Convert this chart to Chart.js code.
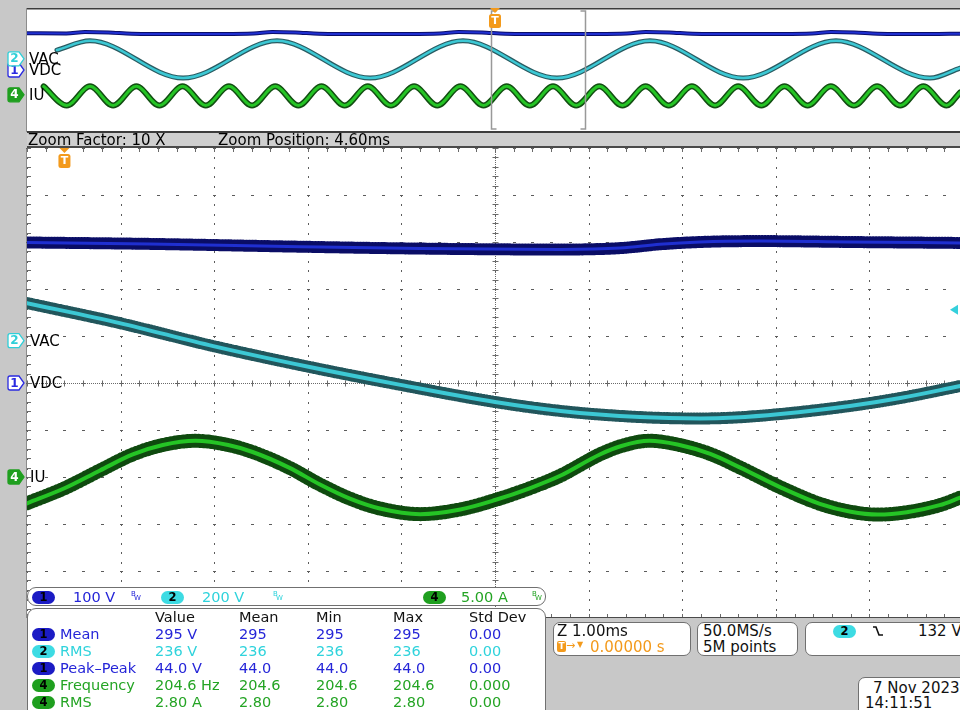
<!DOCTYPE html>
<html>
<head>
<meta charset="utf-8">
<title>VDC / VAC / IU capture</title>
<script src="https://cdn.jsdelivr.net/npm/chart.js@4.4.1/dist/chart.umd.min.js"></script>
<style>
  html, body { margin: 0; padding: 0; }
  body { width: 960px; height: 710px; overflow: hidden; position: relative; background: #c8c8c8;
         font-family: "DejaVu Sans", Verdana, sans-serif; color: #111; }
  canvas { position: absolute; left: 0; }
  #overview { top: 8px; }
  #main { top: 148px; }
  #zoombar { position: absolute; left: 27px; top: 131px; width: 940px; height: 13px; background: #cfcfcf;
             border-top: 2px solid #3c3c3c; border-bottom: 2px solid #4a4a4a; font-size: 15px; line-height: 14px; }
  #zoombar span { position: absolute; top: 0; white-space: nowrap; color: #000; }
  .t { position: absolute; white-space: nowrap; font-size: 14.5px; height: 18px; line-height: 18px; }
  .pill { position: absolute; width: 23px; height: 13px; border-radius: 7px; font-size: 11.5px; font-weight: bold;
          line-height: 13px; text-align: center; color: #000; }
  .bw { position: absolute; font-size: 7px; line-height: 7px; }
  .box { position: absolute; background: #fff; border: 1px solid #707070; border-radius: 7px; box-sizing: border-box; }
</style>
</head>
<body>
<canvas id="overview" width="963" height="124"></canvas>
<div id="zoombar"><span style="left:1px">Zoom Factor: 10 X</span><span style="left:191px">Zoom Position: 4.60ms</span></div>
<canvas id="main" width="963" height="470"></canvas>

<div class="box" id="chbar" style="left:27px;top:587px;width:519px;height:19px;border-radius:9px"></div>
<div class="box" id="meas" style="left:27px;top:608px;width:519px;height:115px;border-radius:9px"></div>

<div class="box" style="left:553px;top:622px;width:138px;height:34px"></div>
<div class="box" style="left:697px;top:622px;width:101px;height:34px"></div>
<div class="box" style="left:805px;top:622px;width:170px;height:34px"></div>
<div class="box" style="left:858px;top:677px;width:120px;height:40px"></div>
<div id="texts"></div>

<script>
// ---------- values ----------
// overview: 10 ms/div, trigger at 0 ms
const ovVdcT = [-50, -45.8, -43.8, -41.3, -38.8, -33.3, -25.8, -23.8, -21.3, -18.8, -13.4, -5.9, -3.9, -1.4, 1.1, 6.6,
                14.1, 16.1, 18.6, 21.1, 26.5, 33.9, 35.9, 38.4, 40.9, 46.5, 49.7];
const ovVdcV = [296, 295, 306, 303, 293, 290, 295, 306, 303, 293, 290, 295, 306, 303, 293, 290,
                295, 306, 303, 293, 290, 295, 306, 303, 293, 290, 293];

const ovVacT = [-46.8, -43.27, -33.33, -23.29, -13.35, -3.42, 6.62, 16.56, 26.5, 36.43, 46.47, 49.7];
const ovVacV = [142, 290, -310, 290, -310, 290, -310, 290, -310, 290, -310, -148];

const ovIuT = [-48.22, -45.75, -43.27, -40.8, -38.32, -35.85, -33.38, -30.9, -28.43, -25.96, -23.48, -21.01,
               -18.54, -16.06, -13.59, -11.12, -8.64, -6.17, -3.7, -1.22, 1.25, 3.72, 6.2, 8.67, 11.14, 13.62,
               16.09, 18.56, 21.04, 23.51, 25.98, 28.46, 30.93, 33.4, 35.88, 38.35, 40.82, 43.3, 45.77, 48.24, 49.7];
const ovIuV = [3.4, -4.3, 3.4, -4.3, 3.4, -4.3, 3.4, -4.3, 3.4, -4.3, 3.4, -4.3,
               3.4, -4.3, 3.4, -4.3, 3.4, -4.3, 3.4, -4.3, 3.4, -4.3, 3.4, -4.3, 3.4, -4.3,
               3.4, -4.3, 3.4, -4.3, 3.4, -4.3, 3.4, -4.3, 3.4, -4.3, 3.4, -4.3, 3.4, -4.3, 1.0];

// zoomed view: 1 ms/div
const mainVdcT = [-0.4, 0.91, 2.52, 3.8, 5.3, 5.94, 6.36, 6.79, 7.43, 8.39, 9.57];
const mainVdcV = [299, 296, 290, 286, 284, 287, 295, 300, 302, 300, 298];

const mainVacT = [-0.4, 0.59, 1.59, 2.62, 3.59, 4.6, 5.3, 6.15, 6.79, 7.16, 7.65, 8.39, 8.93, 9.57];
const mainVacV = [160, 75, -23, -112, -188, -261, -299, -325, -331, -327, -312, -278, -244, -193];

const mainIuT = [-0.4, 0.0, 0.38, 0.73, 1.05, 1.4, 1.75, 2.01, 2.4, 2.73, 3.05, 3.37, 3.8, 4.23, 4.6, 4.97,
                 5.29, 5.72, 5.95, 6.25, 6.55, 6.9, 7.22, 7.65, 8.07, 8.4, 8.69, 9.0, 9.35, 9.57];
const mainIuV = [-2.8, -1.2, 0.7, 2.4, 3.4, 3.85, 3.4, 2.66, 1.0, -0.8, -2.3, -3.35, -3.95, -3.45, -2.45, -1.2,
                 0.1, 2.4, 3.3, 3.85, 3.45, 2.45, 1.0, -1.1, -2.85, -3.7, -4.0, -3.75, -3.0, -2.2];

// measurements table
const measLabels = ['Mean', 'RMS', 'Peak\u2013Peak', 'Frequency', 'RMS'];
const measChannel = [1, 2, 1, 4, 4];
const measValue = ['295 V', '236 V', '44.0 V', '204.6 Hz', '2.80 A'];
const measMean = ['295', '236', '44.0', '204.6', '2.80'];
const measMin = ['295', '236', '44.0', '204.6', '2.80'];
const measMax = ['295', '236', '44.0', '204.6', '2.80'];
const measStdDev = ['0.00', '0.00', '0.00', '0.000', '0.00'];
const measHeader = ['Value', 'Mean', 'Min', 'Max', 'Std Dev'];

// scope settings
const ZOOM_POS = 4.6, ZOOM_HALF = 5;   // ms
const TRIG_LEVEL = 132;                // V on channel 2
const vdcPerDiv = 100, vacPerDiv = 200, iuPerDiv = 5;
const vdcOff = 0, vacOff = 0.9, iuOff = -2.0;   // divisions above centre

const chText = { 1: '#2525d8', 2: '#2fd3dc', 4: '#24a424' };
const chPill = { 1: '#1b1bc4', 2: '#3ddbe3', 4: '#1f9f1f' };
const ORANGE = '#f39a1c';
const FONT = '"DejaVu Sans", Verdana, sans-serif';

const pts = (t, v) => t.map((ti, i) => ({ x: ti, y: v[i] }));

function chAxis(perDiv, off) {
  return { type: 'linear', display: false, min: (-5 - off) * perDiv, max: (5 - off) * perDiv };
}

function trace(t, v, axis, core, edge, widths, fuzz) {
  const data = pts(t, v);
  const sets = [
    { data, yAxisID: axis, borderColor: core, borderWidth: widths[0], order: 0 },
    { data, yAxisID: axis, borderColor: edge, borderWidth: widths[1], order: 1 }
  ];
  if (fuzz) sets.push({ data, yAxisID: axis, borderColor: edge, borderWidth: widths[2], borderDash: fuzz, order: 2 });
  return sets;
}

function seg(c, x1, y1, x2, y2) { c.beginPath(); c.moveTo(x1, y1); c.lineTo(x2, y2); c.stroke(); }

function chMarker(c, x0, y, num, col, filled) {
  c.save();
  c.beginPath();
  c.moveTo(x0 + 2, y - 7); c.lineTo(x0 + 11, y - 7); c.lineTo(x0 + 16, y); c.lineTo(x0 + 11, y + 7);
  c.lineTo(x0 + 2, y + 7); c.quadraticCurveTo(x0, y + 7, x0, y + 5); c.lineTo(x0, y - 5);
  c.quadraticCurveTo(x0, y - 7, x0 + 2, y - 7); c.closePath();
  c.fillStyle = filled ? col : '#fff'; c.fill();
  c.lineWidth = 1.3; c.strokeStyle = col; c.stroke();
  c.fillStyle = filled ? '#fff' : col;
  c.font = 'bold 12px ' + FONT; c.textAlign = 'center'; c.textBaseline = 'middle';
  c.fillText(num, x0 + 6.5, y + 0.5);
  c.restore();
}

function chLabel(c, x, y, text) {
  c.save();
  c.fillStyle = '#000'; c.font = '15px ' + FONT; c.textAlign = 'left'; c.textBaseline = 'middle';
  c.fillText(text, x, y + 1);
  c.restore();
}

function trigMarker(c, x, top) {
  c.save();
  c.fillStyle = ORANGE;
  c.beginPath(); c.moveTo(x - 5, top); c.lineTo(x + 5, top); c.lineTo(x, top + 5); c.closePath(); c.fill();
  c.beginPath(); c.roundRect(x - 6, top + 6, 12, 14, 2.5); c.fill();
  c.fillStyle = '#fff'; c.font = 'bold 11px ' + FONT; c.textAlign = 'center'; c.textBaseline = 'middle';
  c.fillText('T', x, top + 13.5);
  c.restore();
}

function drawMarkers(c, scales, x0, tx) {
  const yIu = scales.yiu.getPixelForValue(0);
  const yDc = scales.y.getPixelForValue(0);
  const yAc = scales.yac.getPixelForValue(0);
  chMarker(c, x0, yIu, '4', chPill[4], true);
  chMarker(c, x0, yDc, '1', '#2a2ae0', false);
  chMarker(c, x0, yAc, '2', '#2fcfd8', false);
  chLabel(c, tx, yIu, 'IU');
  chLabel(c, tx, yDc, 'VDC');
  chLabel(c, tx, yAc, 'VAC');
}

const panel = {
  id: 'panel',
  beforeDraw(chart) {
    const { ctx: c, chartArea: a } = chart;
    c.save();
    c.fillStyle = '#fff';
    c.fillRect(a.left, a.top, a.right - a.left, a.bottom - a.top);
    c.fillStyle = '#8c8c8c';
    c.fillRect(a.left - 1, a.top, 1, a.bottom - a.top);
    c.restore();
  }
};

const overviewDeco = {
  id: 'overviewDeco',
  afterDatasetsDraw(chart) {
    const { ctx: c, chartArea: a, scales } = chart;
    const x = scales.x;
    c.save();
    c.fillStyle = '#3c3c3c';
    c.fillRect(a.left, a.top, a.right - a.left, 1.5);
    const xl = Math.round(x.getPixelForValue(ZOOM_POS - ZOOM_HALF)) + 0.5;
    const xr = Math.round(x.getPixelForValue(ZOOM_POS + ZOOM_HALF)) + 0.5;
    const top = a.top + 3, bot = a.bottom - 3;
    c.strokeStyle = '#999'; c.lineWidth = 1.5;
    c.beginPath(); c.moveTo(xl + 5, top); c.lineTo(xl, top); c.lineTo(xl, bot); c.lineTo(xl + 5, bot); c.stroke();
    c.beginPath(); c.moveTo(xr - 5, top); c.lineTo(xr, top); c.lineTo(xr, bot); c.lineTo(xr - 5, bot); c.stroke();
    c.restore();
    trigMarker(c, x.getPixelForValue(0), a.top);
    drawMarkers(c, scales, 8, 29);
  }
};

// graticule: dotted major lines from the scale ticks, dense centre cross and edge ticks
const mainDeco = {
  id: 'mainDeco',
  beforeDatasetsDraw(chart) {
    const { ctx: c, chartArea: a, scales } = chart;
    const x = scales.x, y = scales.y;
    const cx = Math.round(x.getPixelForValue(ZOOM_POS)) + 0.5;
    const cy = Math.round(y.getPixelForValue(0)) + 0.5;
    const stepX = (x.getPixelForValue(1) - x.getPixelForValue(0)) / 5;
    const stepY = (y.getPixelForValue(0) - y.getPixelForValue(vdcPerDiv)) / 5;
    c.save();
    c.fillStyle = '#5c5c5c';
    x.ticks.forEach(tk => {
      const px = Math.round(x.getPixelForValue(tk.value));
      for (let py = a.top; py <= a.bottom; py += stepY) c.fillRect(px, Math.round(py), 1, 2);
    });
    y.ticks.forEach(tk => {
      const py = Math.round(y.getPixelForValue(tk.value));
      for (let px = a.left; px <= a.right; px += stepX) c.fillRect(Math.round(px) - 1, py, 3, 1);
    });
    c.strokeStyle = '#6a6a6a'; c.lineWidth = 1;
    c.setLineDash([1, 1]);
    seg(c, a.left, cy, a.right, cy);
    seg(c, cx, a.top, cx, a.bottom);
    c.setLineDash([]);
    for (let i = 0; a.left + i * stepX <= a.right + 0.5; i++) {
      const px = Math.round(a.left + i * stepX) + 0.5;
      seg(c, px, cy - 3, px, cy + 3);
      seg(c, px, a.top, px, a.top + 4);
      seg(c, px, a.bottom - 4, px, a.bottom);
    }
    for (let j = 0; a.top + j * stepY <= a.bottom + 0.5; j++) {
      const py = Math.round(a.top + j * stepY) + 0.5;
      seg(c, cx - 3, py, cx + 3, py);
      seg(c, a.left, py, a.left + 4, py);
    }
    c.fillStyle = '#4a4a4a';
    c.fillRect(a.left, a.bottom - 1, a.right - a.left, 1.5);
    c.restore();
  },
  afterDatasetsDraw(chart) {
    const { ctx: c, chartArea: a, scales } = chart;
    trigMarker(c, scales.x.getPixelForValue(0), a.top);
    drawMarkers(c, scales, 8, 30);
    const ty = scales.yac.getPixelForValue(TRIG_LEVEL);
    c.save();
    c.fillStyle = '#35d0dc';
    c.beginPath(); c.moveTo(a.right - 13, ty); c.lineTo(a.right - 5, ty - 5); c.lineTo(a.right - 5, ty + 5);
    c.closePath(); c.fill();
    c.restore();
  }
};

function baseOptions() {
  return {
    responsive: false,
    animation: false,
    devicePixelRatio: 1,
    layout: { padding: { left: 27 } },
    plugins: { legend: { display: false }, tooltip: { enabled: false } },
    elements: {
      point: { radius: 0, hoverRadius: 0 },
      line: { cubicInterpolationMode: 'monotone', fill: false, borderJoinStyle: 'round', borderCapStyle: 'round' }
    }
  };
}

new Chart(document.getElementById('overview'), {
  type: 'line',
  data: {
    datasets: [
      ...trace(ovVdcT, ovVdcV, 'y', '#1f2fd0', '#0b0e6a', [2, 4]),
      ...trace(ovVacT, ovVacV, 'yac', '#3cc8d4', '#2a5c62', [2.5, 5]),
      ...trace(ovIuT, ovIuV, 'yiu', '#25c425', '#124e12', [3, 6])
    ]
  },
  options: {
    ...baseOptions(),
    scales: {
      x: { type: 'linear', display: false, min: -50, max: 50 },
      y: chAxis(vdcPerDiv, vdcOff),
      yac: chAxis(vacPerDiv, vacOff),
      yiu: chAxis(iuPerDiv, iuOff)
    }
  },
  plugins: [panel, overviewDeco]
});

const mainY = chAxis(vdcPerDiv, vdcOff);
new Chart(document.getElementById('main'), {
  type: 'line',
  data: {
    datasets: [
      ...trace(mainVdcT, mainVdcV, 'y', '#1f2fd0', '#0a0d66', [3, 7, 12], [1, 2]),
      ...trace(mainVacT, mainVacV, 'yac', '#3cc8d4', '#22565c', [4, 8, 12], [1, 2]),
      ...trace(mainIuT, mainIuV, 'yiu', '#25c425', '#0f4a0f', [4, 9, 14], [1.5, 2.5])
    ]
  },
  options: {
    ...baseOptions(),
    scales: {
      x: {
        type: 'linear', min: -0.4, max: 9.6,
        ticks: { display: false, stepSize: 1 },
        grid: { display: false, drawTicks: false },
        border: { display: false }
      },
      y: {
        type: 'linear', min: mainY.min, max: mainY.max,
        ticks: { display: false, stepSize: vdcPerDiv },
        grid: { display: false, drawTicks: false },
        border: { display: false }
      },
      yac: chAxis(vacPerDiv, vacOff),
      yiu: chAxis(iuPerDiv, iuOff)
    }
  },
  plugins: [panel, mainDeco]
});

// ---------- readouts below the graticule ----------
const host = document.getElementById('texts');
function put(text, left, cy, color, extra) {
  const d = document.createElement('div');
  d.className = 't';
  d.textContent = text;
  d.style.left = left + 'px';
  d.style.top = (cy - 9) + 'px';
  if (color) d.style.color = color;
  if (extra) Object.assign(d.style, extra);
  host.appendChild(d);
  return d;
}
function pill(num, left, cy) {
  const d = document.createElement('div');
  d.className = 'pill';
  d.textContent = num;
  d.style.left = left + 'px';
  d.style.top = (cy - 6.5) + 'px';
  d.style.background = chPill[num];
  host.appendChild(d);
}
function bw(left, top, color) {
  const b = document.createElement('div');
  b.className = 'bw'; b.textContent = 'B'; b.style.left = left + 'px'; b.style.top = top + 'px'; b.style.color = color;
  const w = document.createElement('div');
  w.className = 'bw'; w.textContent = 'W'; w.style.left = (left + 3) + 'px'; w.style.top = (top + 4) + 'px'; w.style.color = color;
  host.appendChild(b); host.appendChild(w);
}

// channel bar
pill(1, 32, 597); put('100 V', 73, 597, chText[1]); bw(131, 591, chText[1]);
pill(2, 161, 597); put('200 V', 202, 597, chText[2]); bw(273, 591, chText[2]);
pill(4, 423, 597); put('5.00 A', 461, 597, chText[4]); bw(532, 591, chText[4]);

// measurements
const colX = [155, 239, 316, 393, 469];
measHeader.forEach((h, i) => put(h, colX[i], 617, '#111'));
measLabels.forEach((lab, r) => {
  const cy = 634 + r * 17, ch = measChannel[r], col = chText[ch];
  pill(ch, 32, cy);
  put(lab, 60, cy, col);
  [measValue, measMean, measMin, measMax, measStdDev].forEach((arr, i) => put(arr[r], colX[i], cy, col));
});

// timebase / acquisition / trigger / date boxes
put('Z 1.00ms', 557, 631, '#111', { fontSize: '15px' });
const tb = document.createElement('div');
tb.style.cssText = 'position:absolute;left:557px;top:641px;width:9px;height:11px;background:' + ORANGE +
  ';border-radius:2px;color:#fff;font-size:9px;font-weight:bold;line-height:11px;text-align:center';
tb.textContent = 'T';
host.appendChild(tb);
put('\u2192', 566, 646, ORANGE, { fontSize: '11px' });
put('\u25BC', 577, 645, ORANGE, { fontSize: '8px' });
put('0.00000 s', 590, 647, ORANGE, { fontSize: '15px' });
put('50.0MS/s', 703, 631, '#111', { fontSize: '15px' });
put('5M points', 703, 647, '#111', { fontSize: '15px' });
pill(2, 833, 631);
const edge = document.createElementNS('http://www.w3.org/2000/svg', 'svg');
edge.setAttribute('width', '12'); edge.setAttribute('height', '12');
edge.style.cssText = 'position:absolute;left:872px;top:625px';
edge.innerHTML = '<path d="M1 2 H4 L7 10 H11" fill="none" stroke="#111" stroke-width="1.6"/>';
host.appendChild(edge);
put('132 V', 918, 631, '#111', { fontSize: '15px' });
put('7 Nov 2023', 873, 688, '#111', { fontSize: '15px' });
put('14:11:51', 865, 703, '#111', { fontSize: '15px' });
</script>
</body>
</html>
